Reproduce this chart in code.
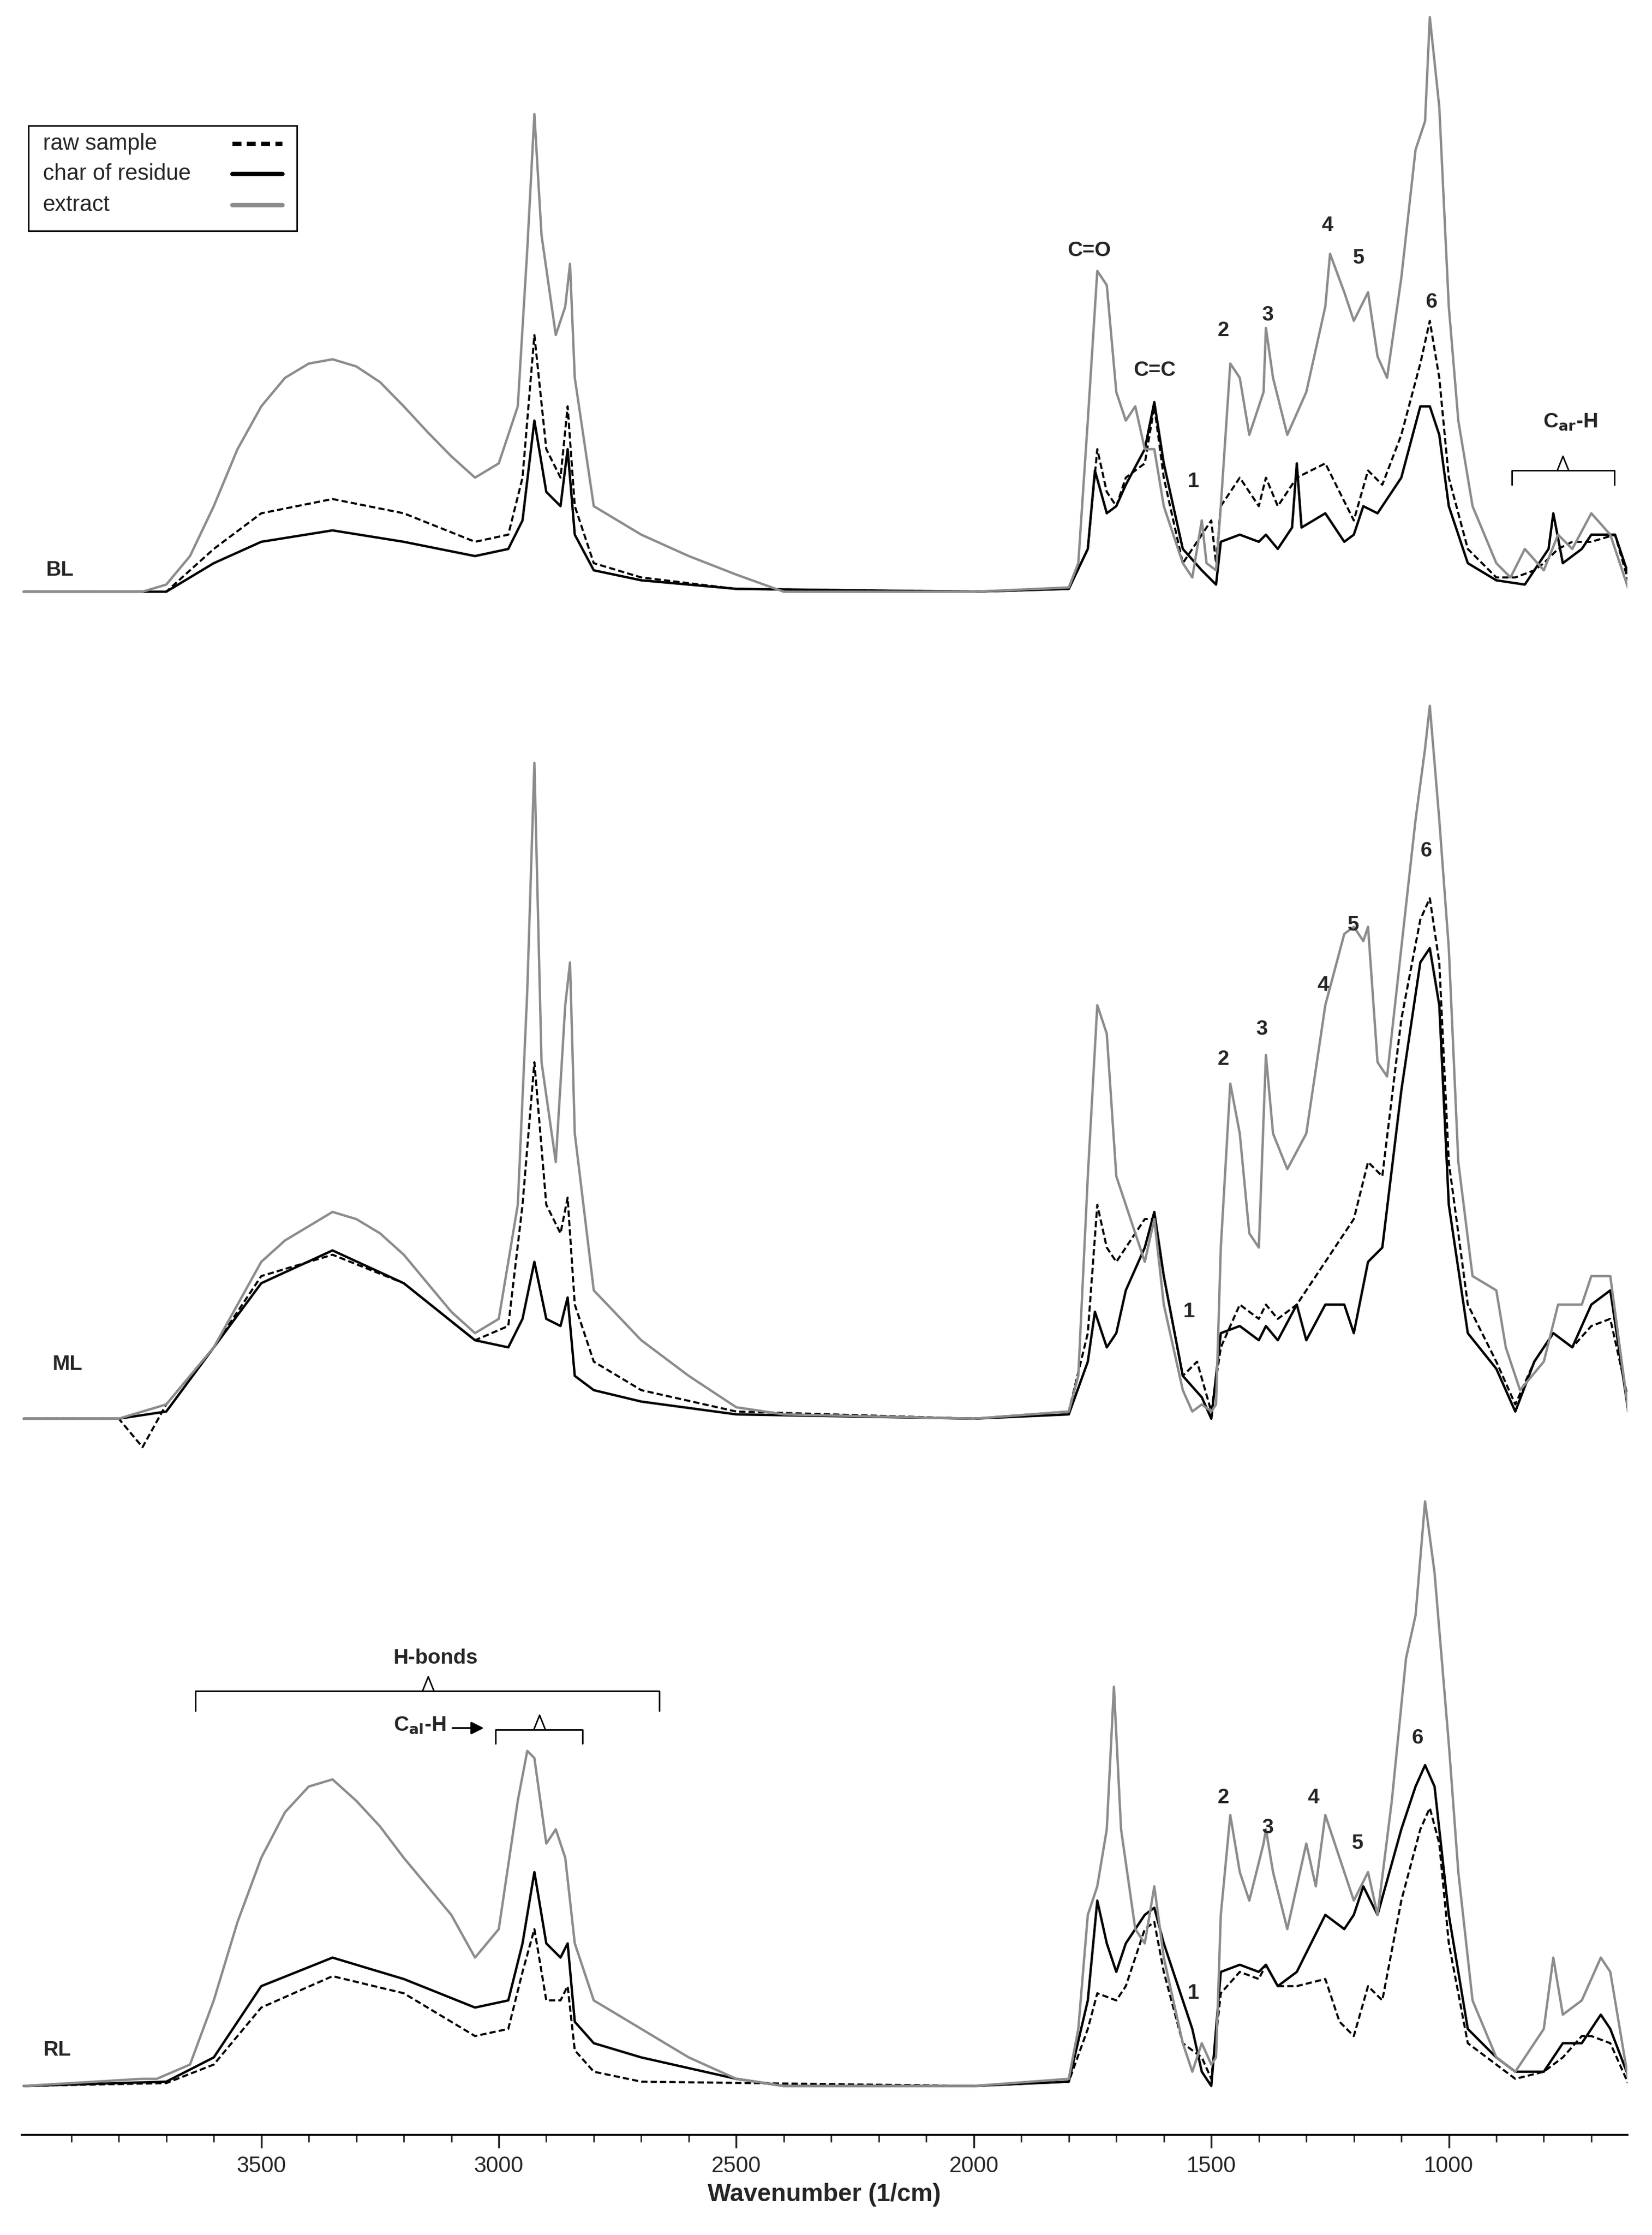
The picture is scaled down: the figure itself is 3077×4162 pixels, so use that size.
import numpy as np, pandas as pd, seaborn as sns, matplotlib
matplotlib.use("Agg")
import matplotlib.pyplot as plt
from matplotlib.patches import Rectangle

sns.set_theme(style="white")
plt.rcParams['font.family'] = ['Liberation Sans', 'DejaVu Sans']

# ---- data: (wavenumber, height above panel baseline) ----
bl_extract = [(4000,0),(3750,0),(3700,5),(3650,25),(3600,60),(3550,100),(3500,130),(3450,150),(3400,160),(3350,163),(3300,158),(3250,147),(3200,130),(3150,112),(3100,95),(3050,80),(3000,90),(2960,130),(2940,240),(2925,335),(2910,250),(2880,180),(2860,200),(2850,230),(2840,150),(2800,60),(2700,40),(2600,25),(2500,12),(2400,0),(2000,0),(1800,3),(1780,20),(1760,120),(1740,225),(1720,215),(1700,140),(1680,120),(1660,130),(1640,100),(1620,100),(1600,60),(1560,20),(1540,10),(1520,50),(1510,20),(1490,15),(1480,60),(1460,160),(1440,150),(1420,110),(1390,140),(1385,185),(1370,150),(1340,110),(1300,140),(1260,200),(1250,237),(1220,210),(1200,190),(1170,210),(1150,165),(1130,150),(1100,220),(1070,310),(1050,330),(1040,403),(1020,340),(1000,200),(980,120),(950,60),(900,20),(870,10),(840,30),(800,15),(770,40),(740,30),(700,55),(660,40),(620,0)]
bl_raw = [(4000,0),(3700,0),(3650,15),(3600,30),(3500,55),(3350,65),(3200,55),(3050,35),(2980,40),(2950,80),(2925,180),(2900,100),(2870,80),(2855,130),(2840,60),(2800,20),(2700,10),(2500,2),(2000,0),(1800,2),(1760,30),(1740,100),(1720,70),(1700,60),(1680,80),(1640,90),(1620,130),(1600,80),(1560,20),(1540,30),(1500,50),(1490,20),(1480,60),(1440,80),(1400,60),(1385,80),(1360,60),(1320,80),(1260,90),(1230,70),(1200,50),(1170,85),(1140,75),(1100,110),(1060,160),(1040,190),(1020,150),(1000,80),(960,30),(900,10),(860,10),(820,15),(800,20),(770,30),(740,35),(700,35),(650,40),(620,5)]
bl_char = [(4000,0),(3700,0),(3650,10),(3600,20),(3500,35),(3350,43),(3200,35),(3050,25),(2980,30),(2950,50),(2925,120),(2900,70),(2870,60),(2855,100),(2840,40),(2800,15),(2700,8),(2500,2),(2000,0),(1800,2),(1760,30),(1745,85),(1720,55),(1700,60),(1680,75),(1640,100),(1620,133),(1600,90),(1560,30),(1520,15),(1490,5),(1480,35),(1440,40),(1400,35),(1385,40),(1360,30),(1330,45),(1320,90),(1310,45),(1260,55),(1220,35),(1200,40),(1180,60),(1150,55),(1100,80),(1060,130),(1040,130),(1020,110),(1000,60),(960,20),(900,8),(840,5),(790,30),(780,55),(760,20),(720,30),(700,40),(650,40),(620,10)]
ml_extract = [(4000,0),(3800,0),(3700,10),(3600,50),(3500,110),(3450,125),(3400,135),(3350,145),(3300,140),(3250,130),(3200,115),(3150,95),(3100,75),(3050,60),(3000,70),(2960,150),(2940,300),(2925,460),(2910,250),(2880,180),(2860,290),(2850,320),(2840,200),(2800,90),(2700,55),(2600,30),(2500,8),(2400,3),(2000,0),(1800,5),(1780,30),(1760,170),(1740,290),(1720,270),(1700,170),(1680,150),(1640,110),(1620,140),(1600,80),(1560,20),(1540,5),(1520,10),(1500,5),(1490,10),(1480,120),(1460,235),(1440,200),(1420,130),(1400,120),(1385,255),(1370,200),(1340,175),(1300,200),(1260,290),(1220,340),(1200,345),(1180,335),(1170,345),(1150,250),(1130,240),(1100,330),(1070,420),(1050,470),(1040,500),(1020,420),(1000,330),(980,180),(950,100),(900,90),(880,50),(850,20),(800,40),(770,80),(720,80),(700,100),(660,100),(620,0)]
ml_raw = [(4000,0),(3800,0),(3750,-20),(3700,10),(3600,50),(3500,100),(3350,115),(3200,95),(3050,55),(2980,65),(2950,150),(2925,250),(2900,150),(2870,130),(2855,155),(2840,80),(2800,40),(2700,20),(2500,5),(2000,0),(1800,5),(1760,60),(1740,150),(1720,120),(1700,110),(1680,120),(1640,140),(1620,140),(1600,100),(1560,30),(1530,40),(1500,5),(1480,50),(1440,80),(1400,70),(1385,80),(1360,70),(1320,80),(1260,110),(1200,140),(1170,180),(1140,170),(1100,280),(1060,350),(1040,365),(1020,320),(1000,180),(960,80),(900,40),(860,10),(820,40),(780,60),(740,50),(700,65),(660,70),(620,10)]
ml_char = [(4000,0),(3800,0),(3700,5),(3600,50),(3500,95),(3350,118),(3200,95),(3050,55),(2980,50),(2950,70),(2925,110),(2900,70),(2870,65),(2855,85),(2840,30),(2800,20),(2700,12),(2500,3),(2000,0),(1800,3),(1760,40),(1745,75),(1720,50),(1700,60),(1680,90),(1640,120),(1620,145),(1600,100),(1560,30),(1520,15),(1500,0),(1480,60),(1440,65),(1400,55),(1385,65),(1360,55),(1320,80),(1300,55),(1260,80),(1220,80),(1200,60),(1170,110),(1140,120),(1100,230),(1060,320),(1040,330),(1020,290),(1000,150),(960,60),(900,35),(860,5),(820,40),(780,60),(740,50),(700,80),(660,90),(620,0)]
rl_extract = [(4000,0),(3750,5),(3720,5),(3650,15),(3600,60),(3550,115),(3500,160),(3450,192),(3400,210),(3350,215),(3300,200),(3250,182),(3200,160),(3150,140),(3100,120),(3050,90),(3000,110),(2960,200),(2940,235),(2925,230),(2900,170),(2880,180),(2860,160),(2840,100),(2800,60),(2700,40),(2600,20),(2500,5),(2400,0),(2000,0),(1800,5),(1780,40),(1760,120),(1740,140),(1720,180),(1705,280),(1690,180),(1660,110),(1640,100),(1620,140),(1600,90),(1560,30),(1540,10),(1520,30),(1500,15),(1490,20),(1480,120),(1460,190),(1440,150),(1420,130),(1390,170),(1385,180),(1370,150),(1340,110),(1300,170),(1280,140),(1260,190),(1230,160),(1200,130),(1170,150),(1150,120),(1120,200),(1090,300),(1070,330),(1050,410),(1030,360),(1000,240),(980,150),(950,60),(900,20),(860,10),(800,40),(780,90),(760,50),(720,60),(680,90),(660,80),(620,0)]
rl_raw = [(4000,0),(3700,2),(3600,15),(3500,55),(3350,77),(3200,65),(3050,35),(2980,40),(2950,80),(2925,110),(2900,60),(2870,60),(2855,70),(2840,25),(2800,10),(2700,3),(2000,0),(1800,3),(1760,40),(1740,65),(1700,60),(1680,70),(1640,110),(1620,115),(1600,80),(1560,30),(1520,20),(1500,5),(1480,65),(1440,80),(1400,75),(1385,85),(1360,70),(1320,70),(1260,75),(1230,45),(1200,35),(1170,70),(1140,60),(1100,130),(1060,180),(1040,195),(1020,170),(1000,100),(960,30),(900,15),(860,5),(800,10),(760,20),(720,35),(700,35),(660,30),(620,0)]
rl_char = [(4000,0),(3700,3),(3600,20),(3500,70),(3350,90),(3200,75),(3050,55),(2980,60),(2950,100),(2925,150),(2900,100),(2870,90),(2855,100),(2840,45),(2800,30),(2700,20),(2500,5),(2400,0),(2000,0),(1800,3),(1760,60),(1740,130),(1720,100),(1700,80),(1680,100),(1640,120),(1620,125),(1600,100),(1560,60),(1540,40),(1520,10),(1500,0),(1480,80),(1440,85),(1400,80),(1385,85),(1360,70),(1320,80),(1260,120),(1220,110),(1200,120),(1180,140),(1150,120),(1100,180),(1070,210),(1050,225),(1030,210),(1000,120),(960,40),(900,20),(860,10),(800,10),(760,30),(720,30),(680,50),(660,40),(620,5)]

panels = ["BL", "ML", "RL"]
series_names = ["raw sample", "char of residue", "extract"]
curves = {"BL": [bl_raw, bl_char, bl_extract], "ML": [ml_raw, ml_char, ml_extract], "RL": [rl_raw, rl_char, rl_extract]}

# ---- layout ----
H = 1568.0
W = 1158.0
def wn(px): return 3500 - (px - 183) / 0.3328
def yy(py): return H - py
baseline = {"BL": 415, "ML": 995, "RL": 1463}

fig = plt.figure(figsize=(30.77, 41.62), dpi=100)
ax = fig.add_axes([0.013, 0.045, 0.972, 0.955])

styles = {"raw sample": dict(color="black", ls=(0, (3, 1.5)), lw=2.8),
          "char of residue": dict(color="black", ls="-", lw=3.2),
          "extract": dict(color="#8c8c8c", ls="-", lw=3.2)}
for p in panels:
    for name, data in zip(series_names, curves[p]):
        df = pd.DataFrame(data, columns=["w", "h"])
        df["y"] = yy(baseline[p]) + df["h"]
        sns.lineplot(data=df, x="w", y="y", ax=ax, sort=False, estimator=None,
                     color=styles[name]["color"], linestyle=styles[name]["ls"], lw=styles[name]["lw"])

ax.set_xlim(wn(15), wn(1140))
ax.set_ylim(yy(1497), H)
for s in ["top", "left", "right"]:
    ax.spines[s].set_visible(False)
ax.spines["bottom"].set_color("black"); ax.spines["bottom"].set_linewidth(2.5)
ax.set_xticks([3500, 3000, 2500, 2000, 1500, 1000])
ax.set_xticks(np.arange(3900, 600, -100), minor=True)
ax.tick_params(axis="x", which="major", direction="out", length=18, width=2.5, labelsize=30, bottom=True, pad=10)
ax.tick_params(axis="x", which="minor", direction="out", length=10, width=2, bottom=True)
ax.set_yticks([])
ax.set_ylabel("")
ax.set_xlabel("Wavenumber (1/cm)", fontsize=33, fontweight="bold", labelpad=8)

# ---- annotations ----
fs = 28
labels = [("C=O",763,176),("C=C",809,260),("1",836,338),("2",857,232),("3",888,221),("4",930,158),("5",952,181),("6",1003,212),
          ("1",833,920),("2",857,743),("3",884,722),("4",927,691),("5",948,649),("6",999,597),
          ("1",836,1398),("2",857,1261),("3",888,1282),("4",920,1261),("5",951,1293),("6",993,1219),
          ("H-bonds",305,1163)]
for t, px, py in labels:
    ax.text(wn(px), yy(py), t, fontsize=fs, fontweight="bold", ha="center", va="center")
for t, px, py in [("BL",42,400),("ML",47,957),("RL",40,1438)]:
    ax.text(wn(px), yy(py), t, fontsize=fs, fontweight="bold", ha="center", va="center")
ax.text(wn(1100), yy(296), r"C$_{\mathbf{ar}}$-H", fontsize=fs, fontweight="bold", ha="center", va="center")
ax.text(wn(294), yy(1210), r"C$_{\mathbf{al}}$-H", fontsize=fs, fontweight="bold", ha="center", va="center")
ax.annotate("", xy=(wn(340), yy(1212)), xytext=(wn(316), yy(1212)),
            arrowprops=dict(arrowstyle="-|>", color="black", lw=2.5, mutation_scale=35))

def bracket(x0, x1, xc, py, drop, rise):
    ax.plot([wn(x0), wn(x0), wn(x1), wn(x1)], [yy(py+drop), yy(py), yy(py), yy(py+drop)], color="black", lw=2)
    ax.plot([wn(xc-4), wn(xc), wn(xc+4)], [yy(py), yy(py-rise), yy(py)], color="black", lw=2)
bracket(137, 462, 300, 1186, 14, 10)
bracket(347, 408, 378, 1213, 10, 10)
bracket(1059, 1131, 1095, 330, 10, 10)

# legend (manual, in figure coords: text left, line sample right)
def fx(px): return px / W
def fy(py): return 1 - py / H
fig.add_artist(Rectangle((fx(20), fy(162)), fx(208) - fx(20), fy(88) - fy(162), transform=fig.transFigure,
                         fill=False, edgecolor="black", lw=2))
for name, py in zip(series_names, [101, 122, 144]):
    fig.text(fx(30), fy(py), name, fontsize=30, ha="left", va="center")
    st = styles[name]
    fig.add_artist(plt.Line2D([fx(163), fx(198)], [fy(py), fy(py)], transform=fig.transFigure,
                              color=st["color"], ls=(0, (2, 1.2)) if name == "raw sample" else "-", lw=6))

fig.savefig("out.png", dpi=100)
